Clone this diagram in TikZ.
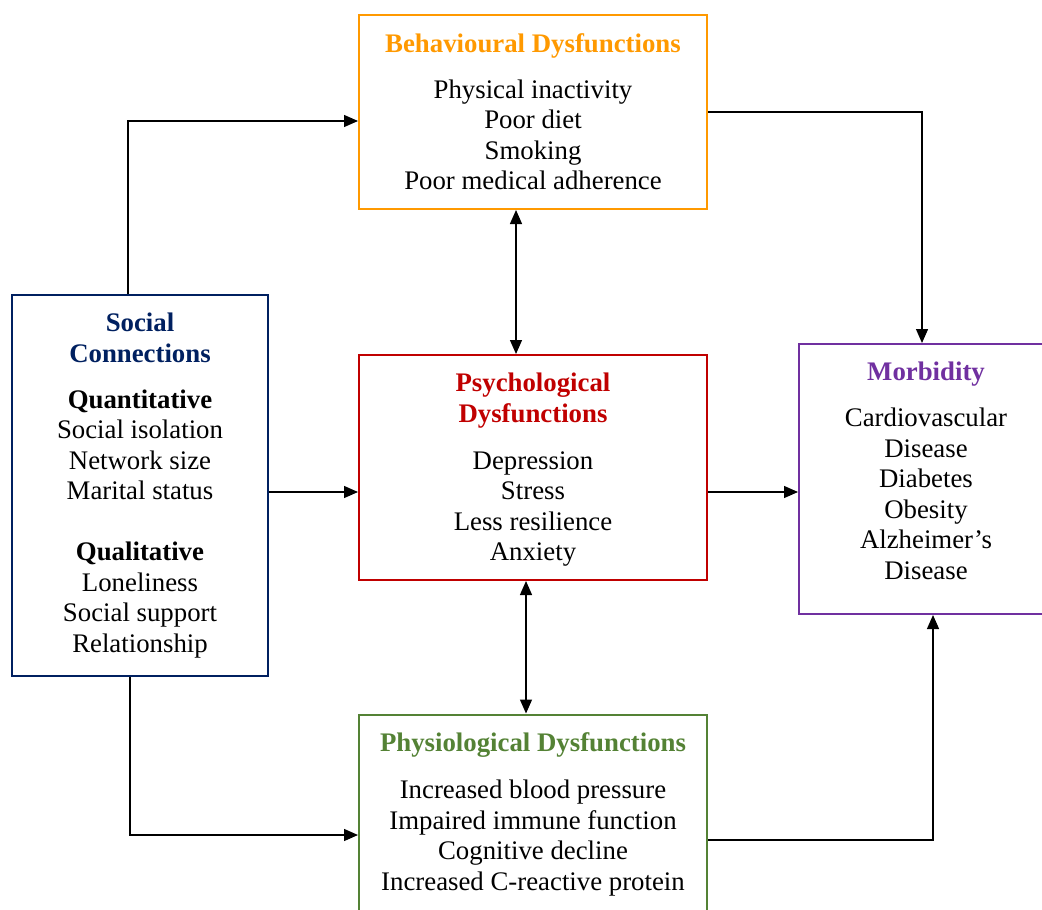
\documentclass[tikz,border=0pt]{standalone}
\usepackage{fontspec}
\setmainfont{Liberation Serif}
\usetikzlibrary{arrows.meta,positioning,calc}
\definecolor{SocNavy}{RGB}{0,32,96}
\definecolor{BehOrange}{RGB}{255,153,0}
\definecolor{PsyRed}{RGB}{192,0,0}
\definecolor{PhyGreen}{RGB}{84,130,53}
\definecolor{MorPurple}{RGB}{112,48,160}

\begin{document}
\begin{tikzpicture}[x=0.5pt,y=-0.5pt,
  box/.style={draw,line width=1pt,inner sep=0pt},
  txt/.style={anchor=north,align=center,inner sep=0pt,font=\fontsize{13.4}{15.25}\selectfont},
  arr/.style={-{Triangle[length=7pt,width=6pt]},line width=0.65pt},
  darr/.style={{Triangle[length=7pt,width=6pt]}-{Triangle[length=7pt,width=6pt]},line width=0.65pt}]
  \clip (0,0) rectangle (1042,909);

  % boxes
  \node[box,BehOrange,minimum width=174pt,minimum height=97pt] (beh) at (533,112) {};
  \node[box,SocNavy,minimum width=128pt,minimum height=190.5pt] (soc) at (140,485.5) {};
  \node[box,PsyRed,minimum width=174pt,minimum height=112.5pt] (psy) at (533,467.5) {};
  \node[box,MorPurple,minimum width=127pt,minimum height=135pt] (mor) at (926,479) {};
  \node[box,PhyGreen,minimum width=174pt,minimum height=99pt] (phy) at (533,813.5) {};

  % texts
  \node[txt] (behtxt) at (533,33.5) {\textbf{\color{BehOrange}Behavioural Dysfunctions}\\[7.5pt]
    Physical inactivity\\Poor diet\\Smoking\\Poor medical adherence};
  \node[txt] (soctxt) at (140,312.5) {\textbf{\color{SocNavy}Social}\\\textbf{\color{SocNavy}Connections}\\[7.75pt]
    \textbf{Quantitative}\\Social isolation\\Network size\\Marital status\\[15.25pt]
    \textbf{Qualitative}\\Loneliness\\Social support\\Relationship};
  \node[txt] (psytxt) at (533,372.5) {\textbf{\color{PsyRed}Psychological}\\\textbf{\color{PsyRed}Dysfunctions}\\[8.25pt]
    Depression\\Stress\\Less resilience\\Anxiety};
  \node[txt] (mortxt) at (926,361.5) {\textbf{\color{MorPurple}Morbidity}\\[7.75pt]
    Cardiovascular\\Disease\\Diabetes\\Obesity\\Alzheimer’s\\Disease};
  \node[txt] (phytxt) at (533,732.5) {\textbf{\color{PhyGreen}Physiological Dysfunctions}\\[8.25pt]
    Increased blood pressure\\Impaired immune function\\Cognitive decline\\Increased C-reactive protein};

  % connectors
  \draw[arr] ([xshift=-6pt]soc.north) |- ([yshift=-4.5pt]beh.west);
  \draw[arr] (beh.east) -| ([xshift=-2pt]mor.north);
  \draw[darr] ([xshift=-8.5pt]beh.south) -- ([xshift=-8.5pt]psy.north);
  \draw[arr] (soc.east |- 0,492) -- (psy.west |- 0,492);
  \draw[arr] (psy.east |- 0,492) -- (mor.west |- 0,492);
  \draw[darr] ([xshift=-3.5pt]psy.south) -- ([xshift=-3.5pt]phy.north);
  \draw[arr] ([xshift=-5pt]soc.south) |- (phy.west |- 0,835);
  \draw[arr] (phy.east |- 0,840) -| ([xshift=3.5pt]mor.south);
\end{tikzpicture}
\end{document}
